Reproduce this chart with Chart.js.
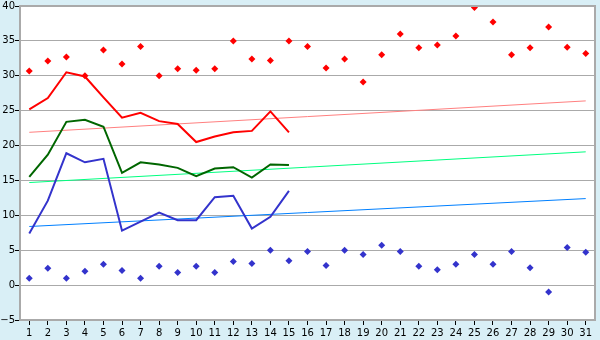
<!DOCTYPE html>
<html>
<head>
<meta charset="utf-8">
<script src="https://cdn.jsdelivr.net/npm/chart.js@4"></script>
<style>
  html, body { margin: 0; padding: 0; background: #d9eff6; }
  #wrap { width: 600px; height: 340px; }
</style>
</head>
<body>
<div id="wrap"><canvas id="chart" width="600" height="340"></canvas></div>
<script>
// Días del mes
const days = Array.from({ length: 31 }, (_, i) => String(i + 1));

// Líneas principales (solo días 1-15)
const redLine   = [25.2, 26.8, 30.5, 29.9, 26.9, 24.0, 24.7, 23.5, 23.1, 20.5, 21.3, 21.9, 22.1, 24.9, 21.9];
const greenLine = [15.5, 18.7, 23.4, 23.7, 22.7, 16.1, 17.6, 17.3, 16.8, 15.6, 16.7, 16.9, 15.4, 17.3, 17.2];
const blueLine  = [7.4, 12.1, 18.9, 17.6, 18.1, 7.8, 9.1, 10.4, 9.3, 9.3, 12.6, 12.8, 8.1, 9.8, 13.5];

// Puntos sueltos (todo el mes)
const redPoints = [30.7, 32.1, 32.7, 30.0, 33.7, 31.7, 34.2, 30.0, 31.0, 30.8, 31.0, 35.0, 32.4, 32.2, 35.0,
                   34.2, 31.1, 32.4, 29.1, 33.0, 36.0, 34.0, 34.4, 35.7, 39.8, 37.7, 33.0, 34.0, 37.0, 34.1, 33.2];
const bluePoints = [1.0, 2.4, 1.0, 2.0, 3.0, 2.1, 1.0, 2.7, 1.8, 2.7, 1.8, 3.4, 3.1, 5.0, 3.5,
                    4.8, 2.8, 5.0, 4.4, 5.7, 4.8, 2.7, 2.2, 3.0, 4.4, 3.0, 4.8, 2.5, -1.0, 5.4, 4.7];

// Tendencias: valor en el día 1 y en el día 31
const redTrend   = [21.9, 26.4];
const greenTrend = [14.7, 19.1];
const blueTrend  = [8.4, 12.4];

function trendData(ends) {
    const arr = Array(days.length).fill(null);
    arr[0] = ends[0];
    arr[days.length - 1] = ends[1];
    return arr;
}

// fondo celeste, área blanca y marco gris
const frame = {
    id: 'frame',
    beforeDraw(chart) {
        const { ctx, chartArea: a } = chart;
        ctx.save();
        ctx.fillStyle = '#d9eff6';
        ctx.fillRect(0, 0, chart.width, chart.height);
        ctx.fillStyle = '#ffffff';
        ctx.fillRect(a.left, a.top, a.right - a.left, a.bottom - a.top);
        ctx.restore();
    },
    afterDatasetsDraw(chart) {
        const { ctx, chartArea: a } = chart;
        ctx.save();
        ctx.strokeStyle = '#aaaaaa';
        ctx.lineWidth = 2;
        ctx.beginPath();
        ctx.moveTo(a.left, a.top);
        ctx.lineTo(a.right, a.top);
        ctx.lineTo(a.right, a.bottom);
        ctx.stroke();
        ctx.restore();
    }
};

const lineOpts = { pointRadius: 0, fill: false, tension: 0 };
const pointOpts = { showLine: false, pointStyle: 'rectRot', pointRadius: 3.5, borderWidth: 0 };

new Chart(document.getElementById('chart'), {
    type: 'line',
    data: {
        labels: days,
        datasets: [
            { ...lineOpts, data: redLine, borderColor: '#ff0000', borderWidth: 2 },
            { ...lineOpts, data: greenLine, borderColor: '#006600', borderWidth: 2 },
            { ...lineOpts, data: blueLine, borderColor: '#3333cc', borderWidth: 2 },
            { ...pointOpts, data: redPoints, backgroundColor: '#ff0000', borderColor: '#ff0000' },
            { ...pointOpts, data: bluePoints, backgroundColor: '#3333cc', borderColor: '#3333cc' },
            { ...lineOpts, data: trendData(redTrend), borderColor: '#ff8080', borderWidth: 1, spanGaps: true },
            { ...lineOpts, data: trendData(greenTrend), borderColor: '#00ff80', borderWidth: 1, spanGaps: true },
            { ...lineOpts, data: trendData(blueTrend), borderColor: '#0080ff', borderWidth: 1, spanGaps: true }
        ]
    },
    options: {
        responsive: false,
        animation: false,
        layout: { padding: { top: 5, right: 5, left: 0, bottom: 0 } },
        plugins: { legend: { display: false }, tooltip: { enabled: false } },
        scales: {
            x: {
                offset: true,
                grid: { drawOnChartArea: false, drawTicks: true, tickLength: 5, tickColor: '#000000', offset: false },
                border: { color: '#aaaaaa', width: 2 },
                ticks: { color: '#000000', font: { family: 'DejaVu Sans', size: 10 }, padding: 2, maxRotation: 0, autoSkip: false },
                afterFit(scale) { scale.height = 20; }
            },
            y: {
                min: -5,
                max: 40,
                grid: { color: '#aaaaaa', tickLength: 5, tickColor: '#000000' },
                border: { color: '#aaaaaa', width: 2 },
                ticks: {
                    stepSize: 5,
                    color: '#000000',
                    font: { family: 'DejaVu Sans', size: 10 },
                    padding: 0,
                    callback: v => String(v).replace('-', '\u2212')
                },
                afterFit(scale) { scale.width = 20; }
            }
        }
    },
    plugins: [frame]
});
</script>
</body>
</html>
